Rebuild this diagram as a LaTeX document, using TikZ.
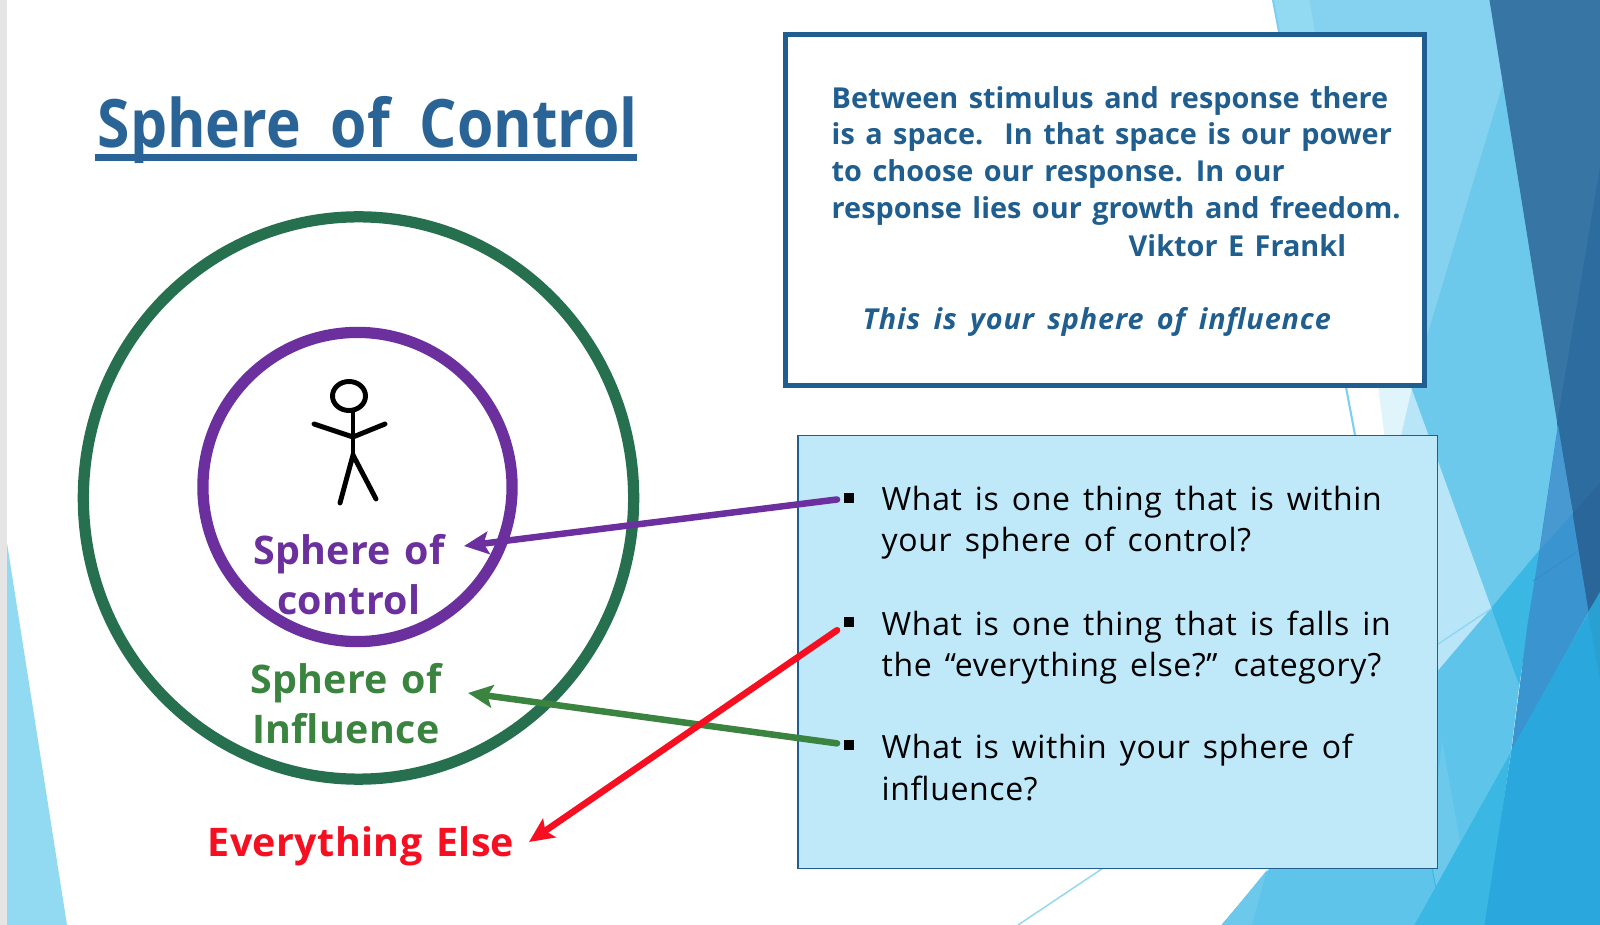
\documentclass[tikz,border=0pt]{standalone}
\usepackage{fontspec}
\usepackage{tikz}
\usetikzlibrary{arrows.meta,shapes.geometric}
\setmainfont{Open Sans}
\newfontfamily\titlefont[FakeStretch=0.88,WordSpace=1.95]{Open Sans}
\newfontfamily\spherefont[LetterSpace=1,WordSpace=1.3]{Open Sans}
\newfontfamily\quotefont[WordSpace=1.4]{Open Sans}
\newfontfamily\remarkfont[LetterSpace=3,WordSpace=1.6]{Open Sans}
\newfontfamily\askfont[LetterSpace=2,WordSpace=1.45]{Open Sans}
\definecolor{inkblue}{HTML}{1F5E8E}
\definecolor{titleblue}{HTML}{2A6496}
\definecolor{ringgreen}{HTML}{27704F}
\definecolor{ringpurple}{HTML}{6B2F9E}
\definecolor{labelgreen}{HTML}{3A8440}
\definecolor{labelred}{HTML}{F50F20}
\definecolor{paneblue}{HTML}{BFE8F9}
\definecolor{thinblue}{HTML}{8FD6F1}
\definecolor{skyA}{HTML}{92D9F2}
\definecolor{skyB}{HTML}{85D2F0}
\definecolor{skyC}{HTML}{7DD0F0}
\definecolor{skyD}{HTML}{E0F4FC}
\definecolor{skyE}{HTML}{B8E6F8}
\definecolor{skyF}{HTML}{6CC9EC}
\definecolor{skyG}{HTML}{5EC4EA}
\definecolor{skyH}{HTML}{3AB7E3}
\definecolor{skyI}{HTML}{2AA7DC}
\definecolor{skyJ}{HTML}{2A9FD2}
\definecolor{steelA}{HTML}{3775A4}
\definecolor{steelB}{HTML}{2D6C9F}
\definecolor{steelC}{HTML}{2A6699}
\definecolor{steelD}{HTML}{3A94CF}
\definecolor{steelE}{HTML}{4898D1}

\begin{document}
\begin{tikzpicture}[x=0.01cm,y=-0.01cm]
    \tikzstyle{sphere}=[inner sep=0pt,align=center,font=\spherefont\bfseries\fontsize{11.2}{14.2}\selectfont]
    \tikzstyle{quote}=[inner sep=0pt,anchor=north west,align=left,text=inkblue,font=\quotefont\bfseries\fontsize{8.2}{10.45}\selectfont]
    \tikzstyle{question}=[inner sep=0pt,anchor=north west,align=left,font=\askfont\fontsize{9.1}{11.75}\selectfont]
    \tikzstyle{bullet}=[rectangle,fill=black,inner sep=0pt,outer sep=1.9pt,minimum width=3pt,minimum height=3pt]
    \tikzstyle{ring}=[ellipse,inner sep=0pt,line width=3.2pt]
    \tikzstyle{pointer}=[line width=1.85pt,line cap=round,-{Stealth[length=7pt,width=6.4pt,inset=1.4pt]}]
    \tikzstyle{stick}=[black,line width=1.4pt,line cap=round]
    \tikzstyle{facet}=[line width=0.3pt]
    \useasboundingbox (0,0) rectangle (1600,925);

    \fill[white] (0,0) rectangle (1600,925);
    \fill[black!10] (0,0) rectangle (7,925);
    \fill[skyA] (7,543) -- (67,925) -- (7,925) -- cycle;

    \fill[skyA] (1273,0) -- (1310,0) -- (1345,200) -- (1310,200) -- cycle;
    \filldraw[skyB,facet] (1310,0) -- (1490,0) -- (1503,85) -- (1412,388) -- (1378,386) -- cycle;
    \draw[skyC,line width=0.6pt] (1273,0) -- (1355,435);
    \fill[skyD] (1378,386) -- (1385,440) -- (1400,440) -- (1412,388) -- cycle;
    \fill[skyE] (1412,388) -- (1492,608) -- (1430,680) -- (1400,440) -- cycle;
    \filldraw[skyF,facet] (1503,85) -- (1558,428) -- (1540,550) -- (1492,608) -- (1412,388) -- cycle;
    \filldraw[skyG,facet] (1492,608) -- (1519,683) -- (1510,755) -- (1415,925) -- (1222,925) -- cycle;
    \fill[skyF] (1222,925) -- (1267,870) -- (1252,925) -- cycle;
    \fill[skyF] (1442,740) -- (1460,842) -- (1435,888) -- (1430,860) -- cycle;
    \filldraw[skyH,facet] (1492,608) -- (1540,550) -- (1519,683) -- cycle;
    \filldraw[skyH,facet] (1510,755) -- (1485,925) -- (1415,925) -- cycle;
    \draw[skyH,line width=0.3pt] (1432,868) -- (1443,925);
    \filldraw[steelA,facet] (1490,0) -- (1600,0) -- (1600,593) -- (1588,612) -- cycle;
    \fill[steelB] (1600,167) -- (1557,423) -- (1588,612) -- (1600,593) -- cycle;
    \fill[steelC] (1573,513) -- (1600,483) -- (1600,593) -- (1588,612) -- cycle;
    \filldraw[steelD,facet] (1558,428) -- (1588,612) -- (1512,750) -- (1528,625) -- (1540,550) -- cycle;
    \fill[steelE] (1558,428) -- (1573,513) -- (1540,550) -- cycle;
    \filldraw[skyI,facet] (1600,593) -- (1600,925) -- (1485,925) -- (1512,750) -- cycle;
    \fill[skyJ] (1588,612) -- (1600,593) -- (1600,680) -- cycle;
    \draw[thinblue,line width=0.4pt] (1018,925) -- (1492,608);
    \draw[skyH,line width=0.3pt] (1492,608) -- (1533,581);
    \draw[steelD!94!black,line width=0.2pt] (1533,581) -- (1578,551);

    \node (title)[anchor=base west,inner sep=0pt,text=titleblue,font=\titlefont\bfseries\fontsize{19}{23}\selectfont] at (97,148) {Sphere of Control};
    \coordinate (titlestart) at (95,157.5);
    \coordinate (titleend) at (637,157.5);
    \draw[titleblue,line width=1.85pt] (titlestart) -- (titleend);

    \node (ringinfluence)[ring,draw=ringgreen,minimum width=5.5cm,minimum height=5.62cm] at (358.5,498) {};
    \node (ringcontrol)[ring,draw=ringpurple,minimum width=3.09cm,minimum height=3.09cm] at (357.5,487) {};

    \node (head)[ellipse,draw=black,line width=1.4pt,inner sep=0pt,minimum width=0.33cm,minimum height=0.29cm] at (349,396) {};
    \coordinate (neck) at (353,411);
    \coordinate (hip) at (353,455);
    \coordinate (shoulder) at (353,437);
    \coordinate (handl) at (314,424);
    \coordinate (handr) at (385,424);
    \coordinate (footl) at (340,503);
    \coordinate (footr) at (376,499);
    \draw[stick] (neck) -- (hip);
    \draw[stick] (handl) -- (shoulder) -- (handr);
    \draw[stick] (footl) -- (hip) -- (footr);

    \node (control)[sphere,text=ringpurple] at (349,575) {Sphere of\\control};
    \node (influence)[sphere,text=labelgreen] at (346,704) {Sphere of\\Influence};
    \node (elseword)[sphere,text=labelred] at (361,846) {Everything Else};

    \node (quotebox)[draw=inkblue,fill=white,line width=1.45pt,minimum width=6.385cm,minimum height=3.505cm] at (1105.25,210.25) {};
    \node (quotetext)[quote] at (831,85.5) {Between stimulus and response there\\is a space.\ \ In that space is our power\\to choose our response. In our\\response lies our growth and freedom.};
    \node (author)[quote] at (1128,233.5) {Viktor E Frankl};
    \node (remark)[quote,font=\remarkfont\bfseries\itshape\fontsize{8.2}{10.45}\selectfont] at (862,307) {This is your sphere of influence};

    \node (pane)[draw=inkblue,fill=paneblue,line width=0.4pt,minimum width=6.39cm,minimum height=4.33cm] at (1117.5,652) {};
    \node (bulletc)[bullet] at (849,498) {};
    \node (bullete)[bullet] at (849,622) {};
    \node (bulleti)[bullet] at (849,745) {};
    \node (askc)[question] at (881,485.5) {What is one thing that is within\\your sphere of control?};
    \node (aske)[question] at (881,610) {What is one thing that is falls in\\the “everything else?” category?};
    \node (aski)[question] at (881,733.5) {What is within your sphere of\\influence?};

    \coordinate (tipc) at (464,546);
    \coordinate (tipi) at (468,693);
    \coordinate (tipe) at (529,842);
    \draw[pointer,ringpurple] (bulletc) -- (tipc);
    \draw[pointer,labelgreen] (bulleti) -- (tipi);
    \draw[pointer,labelred] (bullete) -- (tipe);
\end{tikzpicture}
\end{document}
